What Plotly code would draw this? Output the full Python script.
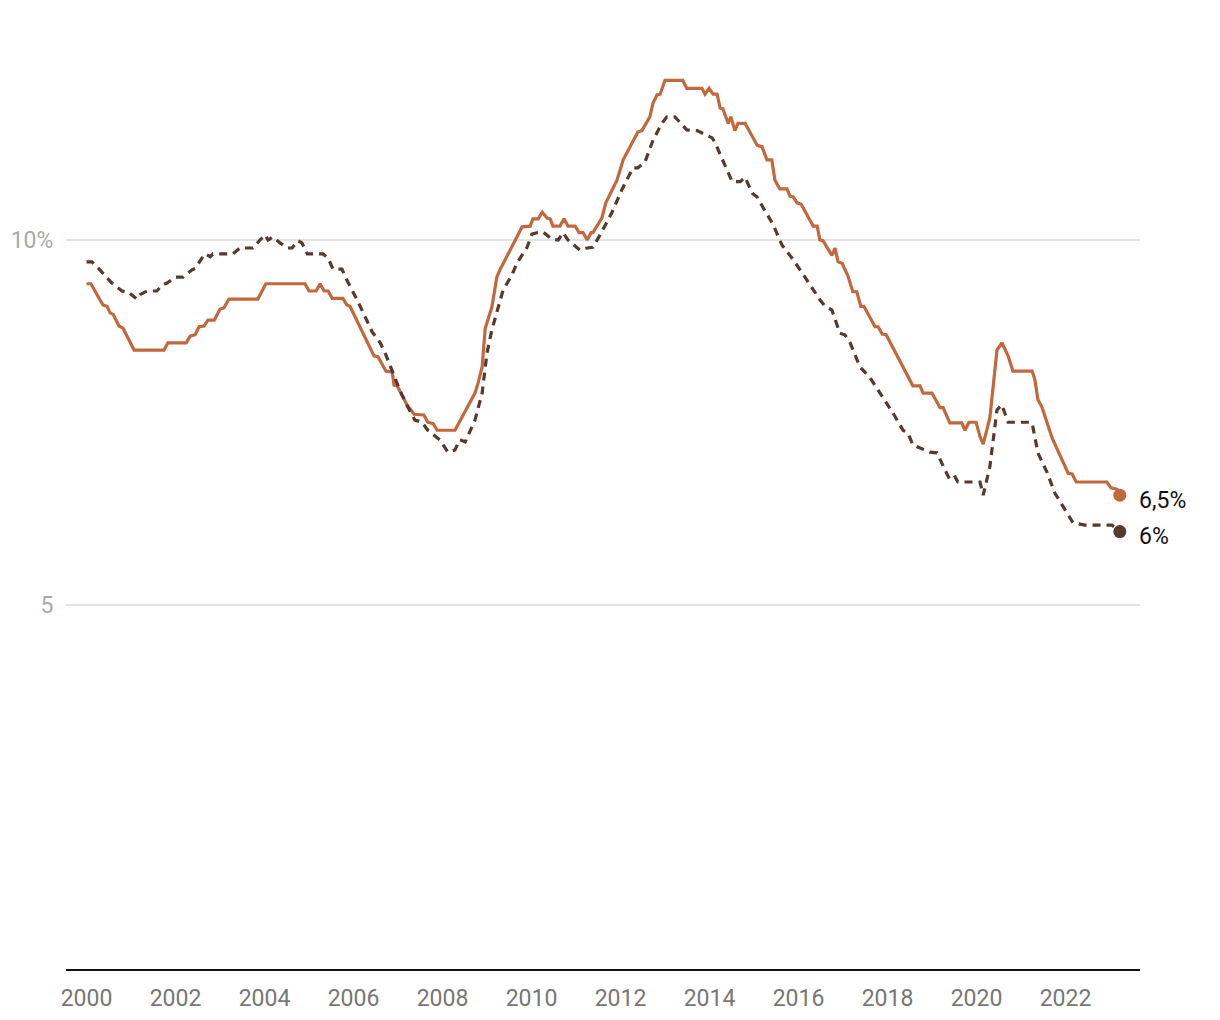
import plotly.graph_objects as go

# Orange (solid) series: year, value (%)
orange_year = [
    2000.00, 2000.10, 2000.30, 2000.37, 2000.46, 2000.53, 2000.60, 2000.73, 2000.82, 2001.07,
    2001.74, 2001.83, 2002.24, 2002.33, 2002.44, 2002.53, 2002.64, 2002.73, 2002.87, 2003.00,
    2003.09, 2003.20, 2003.85, 2004.03, 2004.91, 2005.00, 2005.16, 2005.25, 2005.34, 2005.43,
    2005.52, 2005.76, 2005.85, 2005.92, 2006.46, 2006.55, 2006.73, 2006.87, 2006.91, 2006.98,
    2007.20, 2007.36, 2007.58, 2007.67, 2007.79, 2007.88, 2008.28, 2008.39, 2008.48, 2008.73,
    2008.80, 2008.89, 2008.96, 2009.11, 2009.22, 2009.29, 2009.79, 2009.97, 2010.03, 2010.15,
    2010.24, 2010.35, 2010.42, 2010.48, 2010.64, 2010.73, 2010.82, 2010.98, 2011.07, 2011.16,
    2011.25, 2011.34, 2011.38, 2011.58, 2011.67, 2011.92, 2012.06, 2012.39, 2012.48, 2012.66,
    2012.73, 2012.82, 2012.89, 2013.00, 2013.40, 2013.49, 2013.83, 2013.90, 2013.99, 2014.08,
    2014.17, 2014.24, 2014.30, 2014.42, 2014.48, 2014.57, 2014.64, 2014.80, 2015.07, 2015.18,
    2015.29, 2015.40, 2015.47, 2015.58, 2015.74, 2015.81, 2015.88, 2015.97, 2016.06, 2016.33,
    2016.42, 2016.48, 2016.55, 2016.75, 2016.82, 2016.89, 2016.98, 2017.11, 2017.22, 2017.31,
    2017.40, 2017.47, 2017.72, 2017.79, 2017.88, 2017.97, 2018.57, 2018.73, 2018.80, 2019.00,
    2019.18, 2019.25, 2019.40, 2019.67, 2019.74, 2019.83, 2019.99, 2020.08, 2020.15, 2020.30,
    2020.46, 2020.57, 2020.71, 2020.82, 2021.25, 2021.31, 2021.38, 2021.47, 2021.70, 2022.06,
    2022.15, 2022.24, 2022.93, 2023.02, 2023.16, 2023.22,
]
orange_value = [
    9.40, 9.40, 9.18, 9.11, 9.09, 9.00, 8.98, 8.82, 8.79, 8.49,
    8.49, 8.59, 8.59, 8.68, 8.70, 8.81, 8.82, 8.90, 8.90, 9.05,
    9.07, 9.19, 9.19, 9.40, 9.40, 9.30, 9.30, 9.40, 9.30, 9.30,
    9.20, 9.20, 9.11, 9.09, 8.41, 8.40, 8.20, 8.19, 8.01, 8.00,
    7.74, 7.61, 7.60, 7.50, 7.48, 7.39, 7.39, 7.52, 7.61, 7.90,
    8.04, 8.26, 8.79, 9.08, 9.49, 9.59, 10.18, 10.19, 10.29, 10.29,
    10.38, 10.30, 10.29, 10.19, 10.19, 10.29, 10.19, 10.19, 10.10, 10.10,
    10.00, 10.10, 10.10, 10.30, 10.51, 10.82, 11.10, 11.48, 11.50, 11.69,
    11.88, 11.99, 12.00, 12.19, 12.19, 12.08, 12.08, 12.00, 12.08, 12.00,
    12.00, 11.81, 11.80, 11.60, 11.69, 11.50, 11.60, 11.60, 11.30, 11.28,
    11.10, 11.10, 10.82, 10.70, 10.70, 10.60, 10.59, 10.51, 10.49, 10.19,
    10.19, 10.00, 9.99, 9.79, 9.89, 9.70, 9.68, 9.51, 9.29, 9.29,
    9.09, 9.09, 8.81, 8.81, 8.71, 8.70, 8.00, 8.00, 7.90, 7.90,
    7.70, 7.70, 7.49, 7.49, 7.39, 7.50, 7.50, 7.30, 7.20, 7.56,
    8.49, 8.59, 8.41, 8.20, 8.20, 8.09, 7.81, 7.71, 7.28, 6.80,
    6.79, 6.68, 6.68, 6.60, 6.58, 6.50,
]

# Dark (dashed) series: year, value (%)
dark_year = [
    2000.00, 2000.12, 2000.30, 2000.57, 2000.80, 2000.93, 2001.13, 2001.20, 2001.36, 2001.58,
    2001.70, 2001.81, 2001.99, 2002.17, 2002.37, 2002.44, 2002.66, 2002.78, 2002.84, 2003.29,
    2003.45, 2003.74, 2003.90, 2004.01, 2004.08, 2004.19, 2004.35, 2004.51, 2004.62, 2004.75,
    2004.84, 2004.96, 2005.31, 2005.43, 2005.54, 2005.74, 2005.85, 2006.08, 2006.42, 2006.60,
    2006.71, 2006.89, 2007.04, 2007.22, 2007.38, 2007.54, 2007.67, 2007.94, 2008.12, 2008.28,
    2008.39, 2008.51, 2008.73, 2008.89, 2009.00, 2009.11, 2009.25, 2009.36, 2009.56, 2009.67,
    2009.90, 2010.01, 2010.12, 2010.26, 2010.46, 2010.60, 2010.71, 2010.82, 2011.09, 2011.25,
    2011.38, 2011.54, 2011.81, 2012.03, 2012.28, 2012.39, 2012.55, 2012.73, 2012.93, 2013.04,
    2013.22, 2013.49, 2013.72, 2014.06, 2014.12, 2014.30, 2014.51, 2014.69, 2014.80, 2014.96,
    2015.07, 2015.21, 2015.43, 2015.63, 2015.88, 2016.19, 2016.42, 2016.48, 2016.60, 2016.75,
    2016.93, 2017.04, 2017.16, 2017.38, 2017.61, 2017.76, 2018.12, 2018.35, 2018.46, 2018.57,
    2018.95, 2019.11, 2019.40, 2019.52, 2019.58, 2020.08, 2020.15, 2020.30, 2020.46, 2020.57,
    2020.71, 2021.16, 2021.25, 2021.38, 2021.58, 2021.76, 2022.03, 2022.17, 2022.44, 2023.04,
    2023.22,
]
dark_value = [
    9.70, 9.70, 9.59, 9.41, 9.30, 9.29, 9.19, 9.25, 9.30, 9.30,
    9.38, 9.41, 9.49, 9.49, 9.59, 9.61, 9.81, 9.77, 9.81, 9.81,
    9.89, 9.89, 10.00, 10.07, 10.00, 10.04, 9.96, 9.89, 9.89, 9.99,
    9.96, 9.81, 9.81, 9.75, 9.60, 9.60, 9.45, 9.18, 8.74, 8.59,
    8.45, 8.18, 7.94, 7.71, 7.53, 7.50, 7.39, 7.26, 7.09, 7.12,
    7.26, 7.23, 7.53, 7.90, 8.45, 8.77, 9.08, 9.31, 9.52, 9.68,
    9.90, 10.08, 10.10, 10.11, 10.01, 10.00, 10.10, 10.00, 9.86, 9.89,
    9.90, 10.07, 10.38, 10.69, 10.99, 10.99, 11.07, 11.37, 11.60, 11.69,
    11.69, 11.51, 11.50, 11.40, 11.34, 11.10, 10.80, 10.80, 10.86, 10.64,
    10.59, 10.44, 10.21, 9.93, 9.73, 9.45, 9.22, 9.18, 9.09, 9.04,
    8.72, 8.70, 8.59, 8.26, 8.11, 7.97, 7.63, 7.39, 7.35, 7.19,
    7.09, 7.08, 6.71, 6.75, 6.68, 6.68, 6.50, 6.89, 7.67, 7.74,
    7.50, 7.50, 7.49, 7.08, 6.82, 6.53, 6.26, 6.12, 6.09, 6.09,
    6.00,
]

end_labels = ["6,5%", "6%"]
y_tick_vals = [5, 10]
y_tick_text = ["5", "10%"]
x_tick_vals = list(range(2000, 2023, 2))

ORANGE = "#C3673D"
DARK = "#573A2C"

fig = go.Figure()
fig.add_trace(go.Scatter(
    x=orange_year, y=orange_value, mode="lines",
    line=dict(color=ORANGE, width=3.2), hoverinfo="skip", showlegend=False,
))
fig.add_trace(go.Scatter(
    x=dark_year, y=dark_value, mode="lines",
    line=dict(color=DARK, width=3.2, dash="8px,6px"), hoverinfo="skip", showlegend=False,
))
fig.add_trace(go.Scatter(
    x=[orange_year[-1]], y=[orange_value[-1]], mode="markers",
    marker=dict(color=ORANGE, size=13), showlegend=False, hoverinfo="skip",
))
fig.add_trace(go.Scatter(
    x=[dark_year[-1]], y=[dark_value[-1]], mode="markers",
    marker=dict(color=DARK, size=13), showlegend=False, hoverinfo="skip",
))

for xv, yv, txt in [(orange_year[-1], orange_value[-1], end_labels[0]),
                    (dark_year[-1], dark_value[-1], end_labels[1])]:
    fig.add_annotation(
        x=xv, y=yv, text=txt, showarrow=False, xanchor="left", yanchor="middle",
        xshift=17, yshift=-5, font=dict(family="Roboto", size=23, color="#111111"),
    )

fig.update_layout(
    width=1220, height=1020,
    margin=dict(l=66, r=80, t=21, b=51),
    paper_bgcolor="white", plot_bgcolor="white",
    font=dict(family="Roboto"),
    xaxis=dict(
        range=[1999.539, 2023.674], automargin=False,
        tickvals=x_tick_vals, ticktext=[str(v) for v in x_tick_vals],
        showgrid=False, zeroline=False,
        showline=True, linecolor="#111111", linewidth=2,
        ticks="outside", ticklen=7, tickcolor="rgba(0,0,0,0)",
        tickfont=dict(family="Roboto", size=23, color="#777777"),
    ),
    yaxis=dict(
        range=[0, 13.004], automargin=False,
        tickvals=y_tick_vals, ticktext=y_tick_text,
        showgrid=True, gridcolor="#e3e3e3", gridwidth=1.5,
        zeroline=False, showline=False,
        ticks="outside", ticklen=7, tickcolor="rgba(0,0,0,0)",
        tickfont=dict(family="Roboto", size=23, color="#aaaaaa"),
    ),
)

fig.write_html("out.html")
